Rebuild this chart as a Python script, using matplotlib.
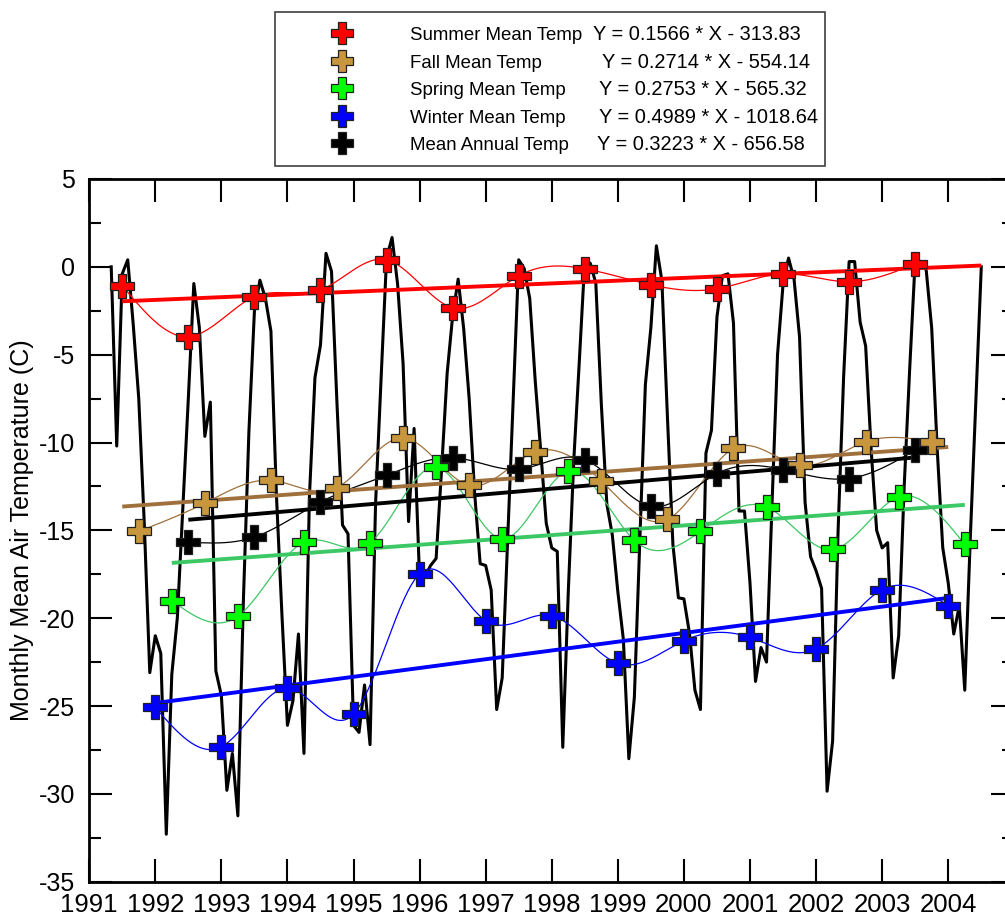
import numpy as np
import matplotlib
matplotlib.use("Agg")
import matplotlib.pyplot as plt
from matplotlib.lines import Line2D
from matplotlib.patches import Rectangle

plt.rcParams['font.family'] = ['Liberation Sans', 'DejaVu Sans']
plt.rcParams['axes.unicode_minus'] = False

# monthly mean air temperature, first value = May 1991
month_start = 1991 + 4 / 12
monthly_temp = [
    0.0, -10.2, -0.4, 0.4, -3.3, -7.5, -14.6, -23.1,
    -21.0, -22.0, -32.3, -23.2, -20.0, -13.8, -7.5, -0.95, -3.45, -9.65, -7.7, -23.0,
    -24.4, -29.8, -27.7, -31.25, -19.0, -9.4, -2.54, -0.76, -1.8, -3.66, -13.0, -19.8,
    -26.1, -24.7, -20.9, -27.7, -13.0, -6.3, -4.45, 0.77, -0.25, -7.8, -14.7, -15.2,
    -26.1, -26.5, -23.8, -27.2, -13.5, -6.4, 0.5, 1.67, -0.97, -5.5, -14.5, -9.2,
    -17.8, -17.6, -17.0, -16.6, -11.5, -6.07, -2.8, -0.7, -3.5, -7.5, -12.9, -16.9,
    -17.0, -18.4, -25.2, -23.4, -15.5, -7.5, 0.4, -0.1, -1.8, -6.5, -10.5, -14.6,
    -16.0, -16.2, -27.35, -18.5, -11.0, -5.4, 0.4, 0.2, -0.93, -7.8, -13.5, -15.27,
    -18.5, -21.2, -28.0, -24.5, -15.5, -6.7, -3.46, 1.2, -0.8, -8.5, -15.8, -18.84,
    -18.9, -20.84, -24.1, -25.2, -10.6, -9.3, -2.85, -0.5, -0.4, -3.2, -13.9, -13.9,
    -18.0, -23.6, -21.67, -22.5, -13.5, -5.0, -1.0, 0.5, -0.7, -4.0, -13.4, -16.5,
    -17.3, -18.3, -29.85, -27.0, -15.0, -6.27, 0.3, 0.3, -3.15, -4.5, -10.4, -15.0,
    -16.0, -15.7, -23.4, -21.0, -12.5, -5.8, 0.4, 0.3, -0.19, -3.5, -10.4, -15.98,
    -18.0, -20.9, -19.3, -24.1, -15.5, -7.8, 0.0,
]

# seasonal means
summer_x = [1991.5, 1992.5, 1993.5, 1994.5, 1995.5, 1996.5, 1997.5, 1998.5, 1999.5, 2000.5, 2001.5, 2002.5, 2003.5]
summer_y = [-1.08, -3.98, -1.70, -1.31, 0.40, -2.33, -0.51, -0.11, -1.02, -1.25, -0.40, -0.85, 0.17]
fall_x = [1991.75, 1992.75, 1993.75, 1994.75, 1995.75, 1996.75, 1997.75, 1998.75, 1999.75, 2000.75, 2001.75, 2002.75, 2003.75]
fall_y = [-15.06, -13.45, -12.15, -12.57, -9.74, -12.44, -10.53, -12.19, -14.38, -10.34, -11.30, -9.96, -9.96]
spring_x = [1992.25, 1993.25, 1994.25, 1995.25, 1996.25, 1997.25, 1998.25, 1999.25, 2000.25, 2001.25, 2002.25, 2003.25, 2004.25]
spring_y = [-19.00, -19.89, -15.67, -15.70, -11.39, -15.48, -11.62, -15.57, -15.06, -13.67, -16.09, -13.10, -15.80]
winter_x = [1992.0, 1993.0, 1994.0, 1995.0, 1996.0, 1997.0, 1998.0, 1999.0, 2000.0, 2001.0, 2002.0, 2003.0, 2004.0]
winter_y = [-25.08, -27.32, -23.98, -25.46, -17.47, -20.14, -19.85, -22.57, -21.28, -21.09, -21.75, -18.37, -19.28]
annual_x = [1992.5, 1993.5, 1994.5, 1995.5, 1996.5, 1997.5, 1998.5, 1999.5, 2000.5, 2001.5, 2002.5, 2003.5]
annual_y = [-15.67, -15.38, -13.39, -11.87, -10.86, -11.52, -10.97, -13.63, -11.77, -11.54, -12.05, -10.44]

names = ["Summer Mean Temp", "Fall Mean Temp", "Spring Mean Temp", "Winter Mean Temp", "Mean Annual Temp"]
trend_slope = [0.1566, 0.2714, 0.2753, 0.4989, 0.3223]
trend_icpt = [-313.83, -554.14, -565.32, -1018.64, -656.58]
trend_x0 = [1991.5, 1991.5, 1992.25, 1992.0, 1992.5]
trend_x1 = [2004.5, 2004.0, 2004.25, 2004.0, 2003.5]

marker_colors = ["#FF0000", "#C8963C", "#00FF00", "#0000FF", "#000000"]
line_colors = ["#FF0000", "#A0703C", "#3CC864", "#0000FF", "#000000"]


def smooth(xs, ys, n=400):
    # natural cubic spline through the points, only for drawing
    x = np.asarray(xs, float)
    y = np.asarray(ys, float)
    k = len(x)
    h = np.diff(x)
    A = np.zeros((k, k))
    r = np.zeros(k)
    A[0, 0] = A[-1, -1] = 1
    for i in range(1, k - 1):
        A[i, i - 1] = h[i - 1]
        A[i, i] = 2 * (h[i - 1] + h[i])
        A[i, i + 1] = h[i]
        r[i] = 6 * ((y[i + 1] - y[i]) / h[i] - (y[i] - y[i - 1]) / h[i - 1])
    M = np.linalg.solve(A, r)
    xx = np.linspace(x[0], x[-1], n)
    j = np.clip(np.searchsorted(x, xx) - 1, 0, k - 2)
    t0 = x[j + 1] - xx
    t1 = xx - x[j]
    hj = h[j]
    yy = (M[j] * t0 ** 3 + M[j + 1] * t1 ** 3) / (6 * hj) \
        + (y[j] / hj - M[j] * hj / 6) * t0 + (y[j + 1] / hj - M[j + 1] * hj / 6) * t1
    return xx, yy


W, H = 1005, 918
fig = plt.figure(figsize=(W / 100, H / 100), dpi=100)
ax = fig.add_axes([89.2 / W, 36.3 / H, 14 * 66.08 / W, 702.7 / H])

month_x = month_start + np.arange(len(monthly_temp)) / 12
ax.plot(month_x, monthly_temp, color="black", lw=2.2, zorder=1)

series = [(summer_x, summer_y), (fall_x, fall_y), (spring_x, spring_y),
          (winter_x, winter_y), (annual_x, annual_y)]
for i, (sx, sy) in enumerate(series):
    xx, yy = smooth(sx, sy)
    ax.plot(xx, yy, color=line_colors[i], lw=0.9, zorder=2)
    tx = np.array([trend_x0[i], trend_x1[i]])
    ax.plot(tx, trend_slope[i] * tx + trend_icpt[i], color=line_colors[i], lw=2.8,
            solid_capstyle="butt", zorder=3)
for i, (sx, sy) in enumerate(series):
    ax.plot(sx, sy, ls="none", marker="P", ms=16.6, mfc=marker_colors[i],
            mec="#202020", mew=0.9, zorder=4)

ax.set_xlim(1991, 2005)
ax.set_ylim(-35, 5)
ax.set_xticks(range(1991, 2005))
ax.set_yticks(range(-35, 6, 5))
ax.set_yticks(np.arange(-32.5, 5, 5), minor=True)
ax.tick_params(axis="x", which="major", direction="in", length=16.6, width=1.5,
               top=True, labelsize=18.5, pad=8)
ax.tick_params(axis="y", which="major", direction="in", length=16.6, width=1.5,
               right=True, labelsize=18, pad=10)
ax.tick_params(axis="y", which="minor", direction="in", length=8.6, width=1.5, right=True)
for s in ax.spines.values():
    s.set_linewidth(2.0)
ax.set_ylabel("Monthly Mean Air Temperature (C)", fontsize=18)
ax.yaxis.set_label_coords(-0.060, 0.5)

# legend box with equations
fig.add_artist(Rectangle((275 / W, 1 - 166 / H), 550 / W, 154 / H, transform=fig.transFigure,
                         fill=False, edgecolor="#404040", lw=1.2))
eq_x = [593, 602, 599, 599, 597]
for i in range(5):
    yc = 33.3 + 27.4 * i
    fig.add_artist(Line2D([342 / W], [1 - yc / H], marker="P", ms=16.0, mfc=marker_colors[i],
                          mec="#202020", mew=0.9, transform=fig.transFigure))
    base = 1 - (yc + 7.2) / H
    fig.text(410 / W, base, names[i], fontsize=13.4, va="baseline", ha="left")
    eq = f"Y = {trend_slope[i]:.4f} * X - {abs(trend_icpt[i]):.2f}"
    fig.text(eq_x[i] / W, base, eq, fontsize=14.4, va="baseline", ha="left")

fig.savefig("out.png", dpi=100)
